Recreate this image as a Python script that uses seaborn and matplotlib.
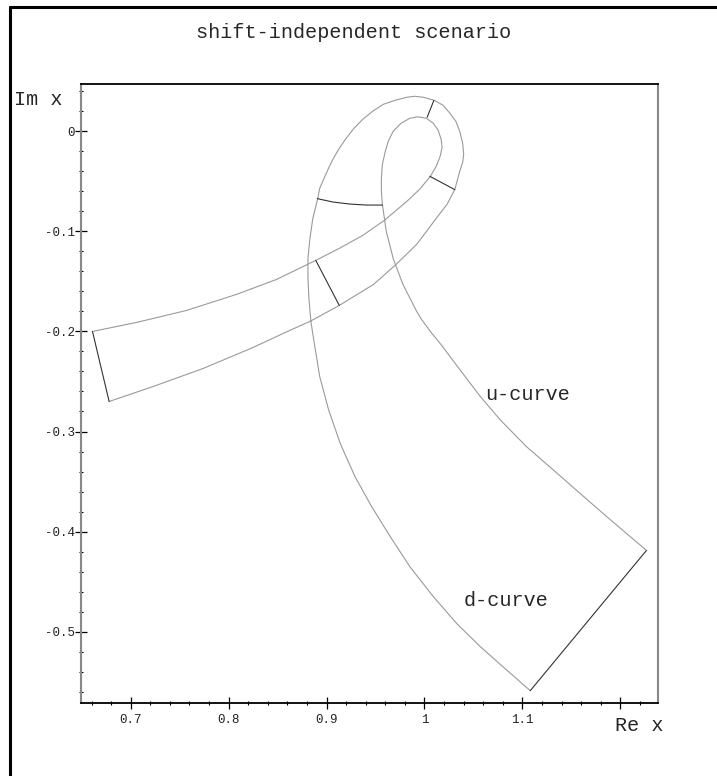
import numpy as np
import matplotlib
matplotlib.use("Agg")
import matplotlib.pyplot as plt
from matplotlib.lines import Line2D
from matplotlib.ticker import FixedLocator, MultipleLocator
import seaborn as sns

# upper edge of the band -> inner loop -> u-curve
u_x = [0.661, 0.706, 0.757, 0.808, 0.849, 0.889, 0.913, 0.937, 0.959, 0.982,
       0.995, 1.006, 1.012, 1.016, 1.018, 1.017, 1.014, 1.009, 1.002, 0.993,
       0.985, 0.976, 0.968, 0.963, 0.960, 0.957, 0.956, 0.956, 0.957, 0.961,
       0.968, 0.978, 0.992, 0.997, 1.006, 1.016, 1.036, 1.057, 1.077, 1.104,
       1.131, 1.159, 1.186, 1.210, 1.227]
u_y = [-0.200, -0.191, -0.179, -0.163, -0.148, -0.129, -0.117, -0.104, -0.089, -0.070,
       -0.058, -0.045, -0.035, -0.025, -0.016, -0.008, 0.001, 0.008, 0.013, 0.0145,
       0.013, 0.008, 0.000, -0.010, -0.020, -0.033, -0.047, -0.060, -0.073, -0.100,
       -0.127, -0.153, -0.180, -0.188, -0.200, -0.212, -0.238, -0.265, -0.288, -0.315,
       -0.338, -0.362, -0.385, -0.405, -0.419]

# lower edge of the band -> outer loop -> d-curve
d_x = [0.678, 0.723, 0.774, 0.825, 0.859, 0.884, 0.913, 0.948, 0.971, 0.992,
       1.012, 1.023, 1.031, 1.036, 1.039, 1.040, 1.039, 1.036, 1.032, 1.026,
       1.019, 1.010, 0.999, 0.990, 0.982, 0.970, 0.958, 0.947, 0.937, 0.928,
       0.920, 0.913, 0.907, 0.902, 0.897, 0.893, 0.891, 0.886, 0.883, 0.881,
       0.881, 0.882, 0.884, 0.888, 0.893, 0.902, 0.914, 0.929, 0.946, 0.965,
       0.985, 1.009, 1.033, 1.057, 1.080, 1.108]
d_y = [-0.270, -0.255, -0.237, -0.216, -0.2005, -0.1895, -0.174, -0.153, -0.133, -0.113,
       -0.087, -0.073, -0.058, -0.040, -0.031, -0.023, -0.012, 0.000, 0.010, 0.018,
       0.026, 0.031, 0.034, 0.035, 0.034, 0.031, 0.027, 0.020, 0.012, 0.003,
       -0.007, -0.017, -0.027, -0.037, -0.048, -0.057, -0.067, -0.087, -0.107, -0.127,
       -0.147, -0.167, -0.190, -0.215, -0.245, -0.278, -0.312, -0.345, -0.375, -0.405,
       -0.435, -0.465, -0.492, -0.515, -0.535, -0.559]

# cross sections joining the two curves
rung_x = [[0.661, 0.678],
          [0.889, 0.913],
          [0.8905, 0.9068, 0.9238, 0.9408, 0.9572],
          [1.0055, 1.0310],
          [1.0095, 1.0027],
          [1.108, 1.2265]]
rung_y = [[-0.200, -0.270],
          [-0.129, -0.174],
          [-0.0673, -0.0707, -0.0727, -0.0737, -0.0737],
          [-0.0450, -0.0583],
          [0.0307, 0.0140],
          [-0.559, -0.419]]

xticks = [0.7, 0.8, 0.9, 1.0, 1.1, 1.2]
xlabels = ["0.7", "0.8", "0.9", "1", "1.1", ""]
yticks = [0.0, -0.1, -0.2, -0.3, -0.4, -0.5]
ylabels = ["0", "-0.1", "-0.2", "-0.3", "-0.4", "-0.5"]

sns.set_style("white")
plt.rcParams["font.family"] = ["Liberation Mono", "DejaVu Sans Mono"]

fig = plt.figure(figsize=(7.17, 7.76), dpi=100)
ax = fig.add_axes([0.1126, 0.0937, 0.8052, 0.7977])

sns.lineplot(x=u_x, y=u_y, sort=False, estimator=None, color="#9a9a9a", linewidth=0.8, ax=ax)
sns.lineplot(x=d_x, y=d_y, sort=False, estimator=None, color="#9a9a9a", linewidth=0.8, ax=ax)
for rx, ry in zip(rung_x, rung_y):
    sns.lineplot(x=rx, y=ry, sort=False, estimator=None, color="#333333", linewidth=0.8, ax=ax)

ax.set_xlim(0.649, 1.2385)
ax.set_ylim(-0.5716, 0.047)

ax.xaxis.set_major_locator(FixedLocator(xticks))
ax.set_xticklabels(xlabels)
ax.yaxis.set_major_locator(FixedLocator(yticks))
ax.set_yticklabels(ylabels)
ax.xaxis.set_minor_locator(MultipleLocator(0.02))
ax.yaxis.set_minor_locator(MultipleLocator(0.02))
ax.tick_params(which="major", direction="inout", length=8, width=0.9, color="black",
               labelsize=9, labelcolor="#222222", bottom=True, left=True)
ax.tick_params(which="minor", direction="inout", length=3.5, width=0.8, color="black",
               bottom=True, left=True)
ax.tick_params(axis="x", pad=4)
ax.tick_params(axis="y", pad=0)

for side in ["top", "bottom"]:
    ax.spines[side].set_color("black")
    ax.spines[side].set_linewidth(1.3)
for side in ["left", "right"]:
    ax.spines[side].set_color("#888888")
    ax.spines[side].set_linewidth(1.5)

ax.text(1.0616, -0.2633, "u-curve", fontsize=14.5, ha="left", va="center")
ax.text(1.0395, -0.4693, "d-curve", fontsize=14.5, ha="left", va="center")

fig.text(0.4937, 0.9575, "shift-independent scenario", fontsize=14.5, ha="center", va="center")
fig.text(0.0195, 0.8718, "Im x", fontsize=14.5, ha="left", va="center")
fig.text(0.9247, 0.0648, "Re x", fontsize=14.5, ha="right", va="center")

# outer frame on the left and top edges
fig.add_artist(Line2D([0.0139, 0.0139], [0.0, 0.991], transform=fig.transFigure,
                      color="black", linewidth=2.2))
fig.add_artist(Line2D([0.0139, 1.0], [0.991, 0.991], transform=fig.transFigure,
                      color="black", linewidth=2.2))

fig.savefig("out.png", dpi=100)
